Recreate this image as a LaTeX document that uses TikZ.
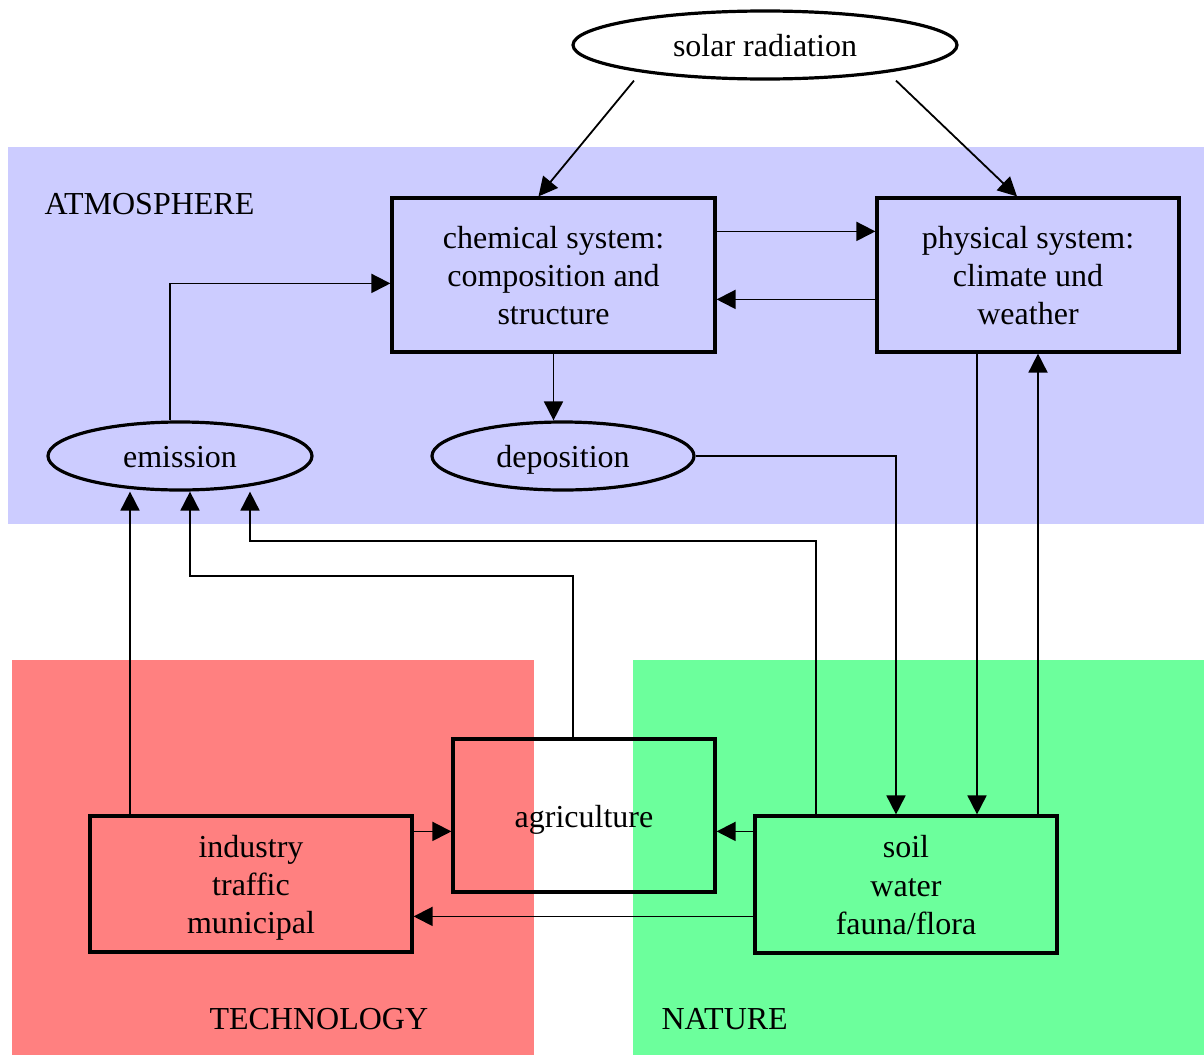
\documentclass[tikz,border=0pt]{standalone}
\usepackage{fontspec}
\setmainfont{Liberation Serif}
\usetikzlibrary{arrows.meta,shapes.geometric,calc}
\definecolor{atmo}{RGB}{204,204,255}
\definecolor{tech}{RGB}{255,128,128}
\definecolor{natu}{RGB}{108,255,156}
% centred stack of lines, lowered a little inside its node
\newcommand\boxtext[1]{\raisebox{-4pt}[\height][\depth]{\begin{tabular}{@{}c@{}}#1\end{tabular}}}
\tikzset{
  box/.style={draw, line width=3.2pt, rectangle, inner sep=0pt},
  oval/.style={draw, line width=3.2pt, ellipse, inner sep=0pt, minimum height=68pt},
  arr/.style={line width=1.8pt, -{Triangle[length=19pt,width=19pt]}},
  region/.style={anchor=base west},
}
\begin{document}
\begin{tikzpicture}[x=1pt,y=-1pt,font=\fontsize{32}{38.3}\selectfont]
  \useasboundingbox (0,0) rectangle (1204,1055);
  % coloured regions
  \fill[atmo] (8,147) rectangle (1204,524);
  \fill[tech] (12,660) rectangle (534,1055);
  \fill[natu] (633,660) rectangle (1204,1055);
  \node[region] (atm) at (41,214) {ATMOSPHERE};
  \node[region] (tec) at (206,1029) {TECHNOLOGY};
  \node[region] (nat) at (658,1029) {NATURE};

  % nodes
  \node[oval, minimum width=384pt] (sol) at (765,45) {\boxtext{solar radiation}};
  \node[box, minimum width=323pt, minimum height=154pt] (chem) at (553.5,275)
    {\boxtext{chemical system:\\composition and\\structure}};
  \node[box, minimum width=302pt, minimum height=154pt] (phys) at (1028,275)
    {\boxtext{physical system:\\climate und\\weather}};
  \node[oval, minimum width=264pt] (emis) at (180,456) {\boxtext{emission}};
  \node[oval, minimum width=262pt] (depo) at (563,456) {\boxtext{deposition}};
  \node[box, minimum width=322pt, minimum height=136pt] (ind) at (251,884)
    {\boxtext{industry\\traffic\\municipal}};
  \node[box, minimum width=262pt, minimum height=153pt] (agri) at (584,815.5)
    {\boxtext{agriculture}};
  \node[box, minimum width=302pt, minimum height=137pt] (soil) at (906,884.5)
    {\boxtext{soil\\water\\fauna/flora}};

  % connectors
  \draw[arr] ($(sol.south)+(-131,0)$) -- ($(chem.north)+(-15,0)$);
  \draw[arr] ($(sol.south)+(131,0)$) -- ($(phys.north)+(-11,0)$);
  \draw[arr] ($(chem.north east)+(0,35)$) -- ($(phys.north west)+(0,35)$);
  \draw[arr] ($(phys.north west)+(0,103)$) -- ($(chem.north east)+(0,103)$);
  \draw[arr] (chem.south) -- (depo.north -| chem.south);
  \draw[arr] ($(emis.north)+(-10,0)$) |- ($(chem.north west)+(0,87)$);
  \draw[arr] (depo.east) -| ($(soil.north)+(-10,0)$);
  \draw[arr] ($(phys.south)+(-51,0)$) -- ($(soil.north)+(71,0)$);
  \draw[arr] ($(soil.north)+(132,0)$) -- ($(phys.south)+(10,0)$);
  \draw[arr] ($(ind.north)+(-121,0)$) -- ($(emis.south)+(-50,0)$);
  \draw[arr] ($(agri.north)+(-11,0)$) |- (190,576) -- ($(emis.south)+(10,0)$);
  \draw[arr] ($(soil.north)+(-90,0)$) |- (250,541) -- ($(emis.south)+(70,0)$);
  \draw[arr] ($(ind.north east)+(0,17)$) -- ($(agri.north west)+(0,94)$);
  \draw[arr] ($(soil.north west)+(0,17)$) -- ($(agri.north east)+(0,94)$);
  \draw[arr] ($(soil.north west)+(0,102)$) -- ($(ind.north east)+(0,102)$);
\end{tikzpicture}
\end{document}
